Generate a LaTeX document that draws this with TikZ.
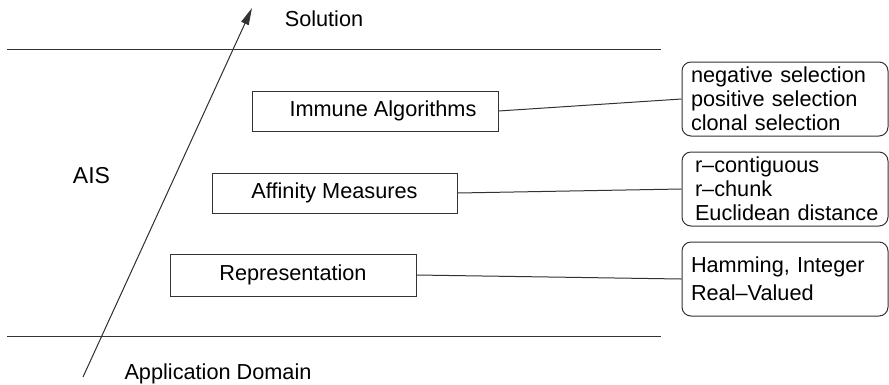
\documentclass[tikz,border=0pt]{standalone}
\usepackage{fontspec}
\setmainfont{Liberation Sans}
\usetikzlibrary{arrows.meta}
\begin{document}
\begin{tikzpicture}[x=1pt,y=-1pt,
  every node/.style={font=\fontsize{21.7}{24}\selectfont, text=black},
  ln/.style={line width=1pt, draw=black!80},
  layerbox/.style={ln, rectangle, inner sep=0pt, minimum width=246pt, minimum height=40pt},
  listbox/.style={ln, rectangle, rounded corners=9pt, inner xsep=9pt, inner ysep=0pt,
     minimum width=206pt, minimum height=74pt, text width=188pt, align=left},
  plain/.style={inner sep=0pt}]
\useasboundingbox (0,0) rectangle (889,384);
% horizontal lines
\coordinate (t0) at (7,49.5);
\coordinate (t1) at (661,49.5);
\coordinate (b0) at (7,336);
\coordinate (b1) at (661,336);
\draw[ln] (t0) -- (t1);
\draw[ln] (b0) -- (b1);
% arrow
\coordinate (a0) at (83,377);
\coordinate (a1) at (252,8);
\draw[ln, -{Triangle[length=17pt,width=8pt]}, fill=black!85] (a0) -- (a1);
% labels
\node[plain, anchor=base] (sol) at (324,26) {Solution};
\node[plain, anchor=base, font=\fontsize{23}{26}\selectfont] (ais) at (91.5,183) {AIS};
\node[plain, anchor=base] (app) at (218,379) {Application Domain};
% layer boxes
\node[layerbox] (imm) at (375,111) {\hspace*{16pt}Immune Algorithms};
\node[layerbox, minimum width=245pt] (aff) at (334.5,193) {Affinity Measures};
\node[layerbox, minimum height=42pt] (rep) at (293,275) {Representation};
% list boxes
\node[listbox] (l1) at (785,99) {negative selection\\positive selection\\clonal selection};
\node[listbox] (l2) at (785,189) {\hspace*{4pt}r--contiguous\\\hspace*{4pt}r--chunk\\\hspace*{4pt}Euclidean distance};
\node[listbox, font=\fontsize{21.7}{28}\selectfont] (l3) at (785,279) {Hamming, Integer\\Real--Valued};
% connectors
\draw[ln] (imm.east) -- (l1.west);
\draw[ln] (aff.east) -- (l2.west);
\draw[ln] (rep.east) -- (l3.west);
\end{tikzpicture}
\end{document}
